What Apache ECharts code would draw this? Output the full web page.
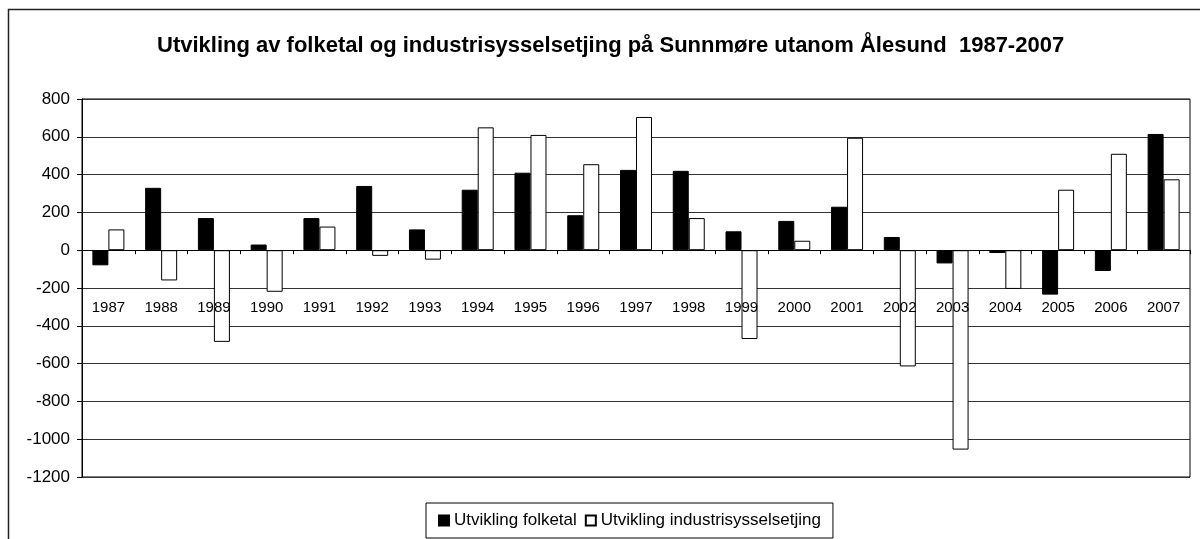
<!DOCTYPE html>
<html>
<head>
<meta charset="utf-8">
<script src="https://cdn.jsdelivr.net/npm/echarts@6/dist/echarts.min.js"></script>
<style>
  html, body { margin: 0; padding: 0; background: #fff; }
  #chart { width: 1200px; height: 539px; }
</style>
</head>
<body>
<div id="chart"></div>
<script>
// år
var years = ['1987', '1988', '1989', '1990', '1991', '1992', '1993', '1994', '1995', '1996', '1997',
             '1998', '1999', '2000', '2001', '2002', '2003', '2004', '2005', '2006', '2007'];
// utvikling folketal
var folketal = [-80, 330, 170, 30, 170, 340, 110, 320, 410, 185, 425,
                420, 100, 155, 230, 70, -70, -15, -235, -110, 615];
// utvikling industrisysselsetjing
var industri = [110, -160, -485, -220, 125, -30, -50, 650, 610, 455, 705,
                170, -470, 50, 595, -615, -1055, -205, 320, 510, 375];

var yMin = -1200, yMax = 800;
var gridTop = 99, gridBottom = 62;

// kategori-aksen skal ligge på 0-linja
var plotH = 539 - gridTop - gridBottom;
var zeroOffset = -plotH * (0 - yMin) / (yMax - yMin);

var myChart = echarts.init(document.getElementById('chart'));

var option = {
    backgroundColor: '#fff',
    animation: false,
    textStyle: { fontFamily: 'Arial, "Liberation Sans", sans-serif', color: '#000' },
    title: {
        text: 'Utvikling av folketal og industrisysselsetjing på Sunnmøre utanom Ålesund  1987-2007',
        left: 152,
        top: 30,
        textStyle: {
            fontSize: 22,
            fontWeight: 'bold',
            color: '#000'
        }
    },
    graphic: [
        {
            type: 'rect',
            shape: { x: 8.5, y: 9.5, width: 1300, height: 700 },
            style: { fill: 'none', stroke: '#222', lineWidth: 1.5 },
            silent: true
        }
    ],
    legend: {
        left: 426,
        top: 503,
        padding: [9, 12],
        itemGap: 8,
        itemWidth: 10,
        itemHeight: 10,
        borderColor: '#000',
        borderWidth: 1,
        icon: 'rect',
        textStyle: { fontSize: 17, color: '#000' },
        data: ['Utvikling folketal', 'Utvikling industrisysselsetjing']
    },
    grid: {
        left: 82,
        right: 10,
        top: gridTop,
        bottom: gridBottom,
        show: true,
        borderColor: '#000',
        borderWidth: 1
    },
    xAxis: {
        type: 'category',
        data: years,
        offset: zeroOffset,
        z: 5,
        axisLine: { onZero: false, lineStyle: { color: '#000', width: 1 } },
        axisTick: { show: true, inside: false, length: 4, lineStyle: { color: '#000' } },
        axisLabel: { margin: 50, fontSize: 15, color: '#000' },
        splitLine: { show: false }
    },
    yAxis: {
        type: 'value',
        min: yMin,
        max: yMax,
        interval: 200,
        axisLine: { show: true, lineStyle: { color: '#000', width: 1 } },
        axisTick: { show: true, length: 5, lineStyle: { color: '#000' } },
        axisLabel: {
            fontSize: 17,
            color: '#000',
            margin: 12,
            formatter: function (v) { return String(v); }
        },
        splitLine: { show: true, lineStyle: { color: '#333', width: 1 } }
    },
    series: [
        {
            name: 'Utvikling folketal',
            type: 'bar',
            barWidth: 16,
            barGap: '0%',
            itemStyle: { color: '#000', borderColor: '#000', borderWidth: 1 },
            data: folketal
        },
        {
            name: 'Utvikling industrisysselsetjing',
            type: 'bar',
            barWidth: 16,
            barGap: '0%',
            itemStyle: { color: '#fff', borderColor: '#000', borderWidth: 1 },
            data: industri
        }
    ]
};

myChart.setOption(option);
</script>
</body>
</html>
